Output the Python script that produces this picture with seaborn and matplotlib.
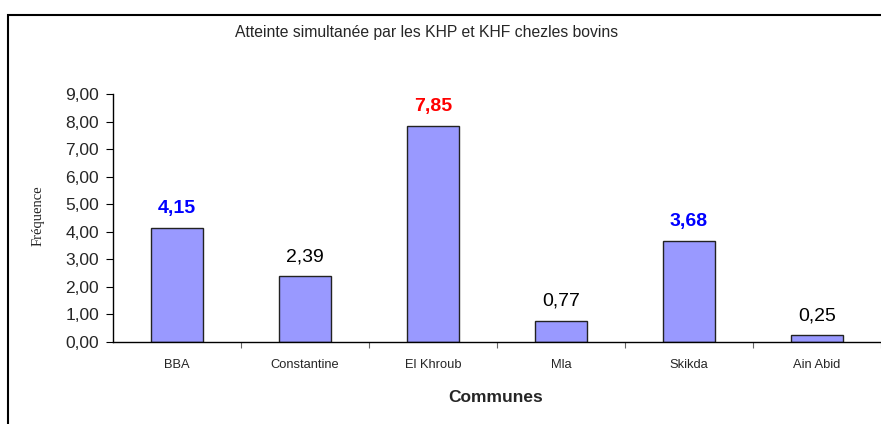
import numpy as np
import seaborn as sns
import matplotlib.pyplot as plt
import matplotlib.ticker as ticker
from matplotlib.patches import Rectangle

communes = ["BBA", "Constantine", "El Khroub", "Mla", "Skikda", "Ain Abid"]
frequences = [4.15, 2.39, 7.85, 0.77, 3.68, 0.25]
label_colors = ["#0000FF", "black", "#FF0000", "black", "#0000FF", "black"]
label_weights = ["bold", "normal", "bold", "normal", "bold", "normal"]
y_ticks = [0, 1, 2, 3, 4, 5, 6, 7, 8, 9]


def fr_fmt(value, _):
    return '{:.2f}'.format(value).replace('.', ',')


sns.set_style('ticks')
plt.rcParams['font.family'] = ['Liberation Sans', 'DejaVu Sans']

fig = plt.figure(figsize=(8.81, 4.24), dpi=100)
ax = fig.add_axes([113 / 881, 82 / 424, 768 / 881, 248 / 424])

sns.barplot(x=communes, y=frequences, color='#9999FF', saturation=1, width=0.414,
            edgecolor='#222222', linewidth=1, ax=ax)

ax.set_ylim(0, 9)
ax.set_xlim(-0.5, len(communes) - 0.5)
ax.set_yticks(y_ticks)
ax.yaxis.set_major_formatter(ticker.FuncFormatter(fr_fmt))
ax.tick_params(axis='y', labelsize=12.5, length=5, width=0.8, pad=5, color='black')
ax.tick_params(axis='x', which='major', length=0, labelsize=9.3, pad=12)
ax.set_xticks(np.arange(0.5, len(communes), 1), minor=True)
ax.tick_params(axis='x', which='minor', length=4, width=0.8, color='#666666')
ax.set_xlabel('')
ax.set_ylabel('')
sns.despine(ax=ax)
for s in ['left', 'bottom']:
    ax.spines[s].set_linewidth(1)
    ax.spines[s].set_color('black')

for i, v in enumerate(frequences):
    ax.annotate(fr_fmt(v, None), (i, v), xytext=(0, 14), textcoords='offset points',
                ha='center', va='center', fontsize=14, color=label_colors[i],
                fontweight=label_weights[i])

fig.text(427 / 881, 1 - 33 / 424, "Atteinte simultanée par les KHP et KHF chezles bovins",
         ha='center', va='center', fontsize=11.3)
fig.text(496 / 881, 1 - 397 / 424, "Communes", ha='center', va='center',
         fontsize=12.5, fontweight='bold')
fig.text(38 / 881, 1 - 216 / 424, "Fréquence", ha='center', va='center', rotation=90,
         fontsize=10.5, family=['Liberation Serif', 'DejaVu Serif'])

fig.patches.append(Rectangle((8 / 881, -0.1), 1.0, 1 - 15 / 424 + 0.1, transform=fig.transFigure,
                             fill=False, edgecolor='black', linewidth=1.5))

fig.savefig('out.png', dpi=100)
